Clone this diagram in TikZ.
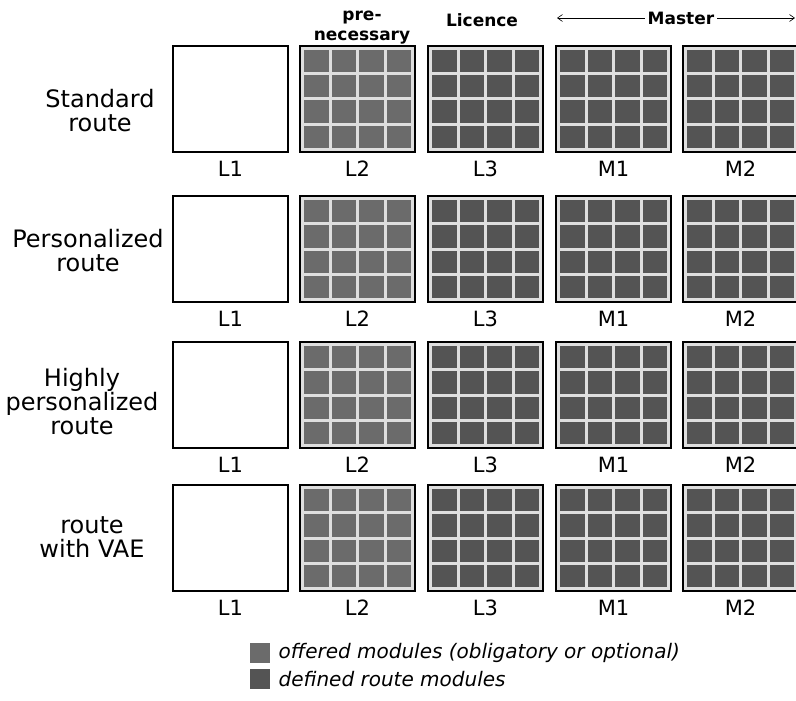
\documentclass[tikz,border=0pt]{standalone}
\usepackage{fontspec}
\setmainfont{DejaVu Sans}
\usepackage{tikz}
\usetikzlibrary{arrows.meta, positioning}

\definecolor{offered}{gray}{0.42}
\definecolor{defined}{gray}{0.33}
\definecolor{gridline}{gray}{0.87}

\tikzset{
	modblock/.style={draw=black, line width=1.5pt, fill=gridline, minimum width=115pt, minimum height=106pt, inner sep=0pt, outer sep=0pt, anchor=north west},
	emptyblock/.style={modblock, fill=white},
	blocklabel/.style={font=\fontsize{21}{23}\selectfont, inner sep=0pt},
	routelabel/.style={font=\fontsize{24}{24}\selectfont, align=center, inner sep=0pt},
	headlabel/.style={font=\fontsize{17}{20}\selectfont\bfseries, align=center, inner sep=0pt},
	legendtext/.style={font=\fontsize{20}{22}\selectfont\itshape, inner sep=0pt},
	legendbox/.style={minimum size=20pt, inner sep=0pt, anchor=north west}
}

\begin{document}
\begin{tikzpicture}[x=1pt, y=-1pt]
	\useasboundingbox (0,0) rectangle (796,701);
	% header
	\node[headlabel] (prenec) at (362,28) {pre-\\necessary};
	\node[headlabel] (licence) at (482,20) {Licence};
	\node[headlabel] (master) at (681,18) {Master};
	\coordinate (mleft) at (557,18);
	\coordinate (mright) at (795,18);
	\draw[-{Straight Barb[length=5pt,width=7pt]}, line width=0.6pt, shorten <=3pt] (master.west) -- (mleft);
	\draw[-{Straight Barb[length=5pt,width=7pt]}, line width=0.6pt, shorten <=3pt] (master.east) -- (mright);
	% routes
	\node[routelabel] (standard) at (100,111) {Standard\\route};
	\node[routelabel] (personal) at (88,251) {Personalized\\route};
	\node[routelabel] (highly) at (82,402) {Highly\\personalized\\route};
	\node[routelabel] (vae) at (92,537) {route\\with VAE};
	\foreach \y [count=\r] in {46,196,342,485} {
		\node[emptyblock] (b\r-L1) at (173,\y) {};
		\node[blocklabel, below=9pt of b\r-L1] (t\r-L1) {L1};
		\foreach \x/\lab/\shade in {300/L2/offered, 428/L3/defined, 556/M1/defined, 683/M2/defined} {
			\node[modblock] (b\r-\lab) at (\x,\y) {};
			\foreach \i in {0,...,3}
				\foreach \j in {0,...,3}
					\fill[\shade] (\x+4+27.5*\i, \y+4+25.25*\j) rectangle ++(24.5,22.25);
			\node[blocklabel, below=9pt of b\r-\lab] (t\r-\lab) {\lab};
		}
	}
	% legend
	\node[legendbox, fill=offered] (keyoff) at (250,643) {};
	\node[legendtext, right=8pt of keyoff] (txtoff) {offered modules (obligatory or optional)};
	\node[legendbox, fill=defined] (keydef) at (250,669) {};
	\node[legendtext, right=8pt of keydef] (txtdef) {defined route modules};
\end{tikzpicture}
\end{document}
